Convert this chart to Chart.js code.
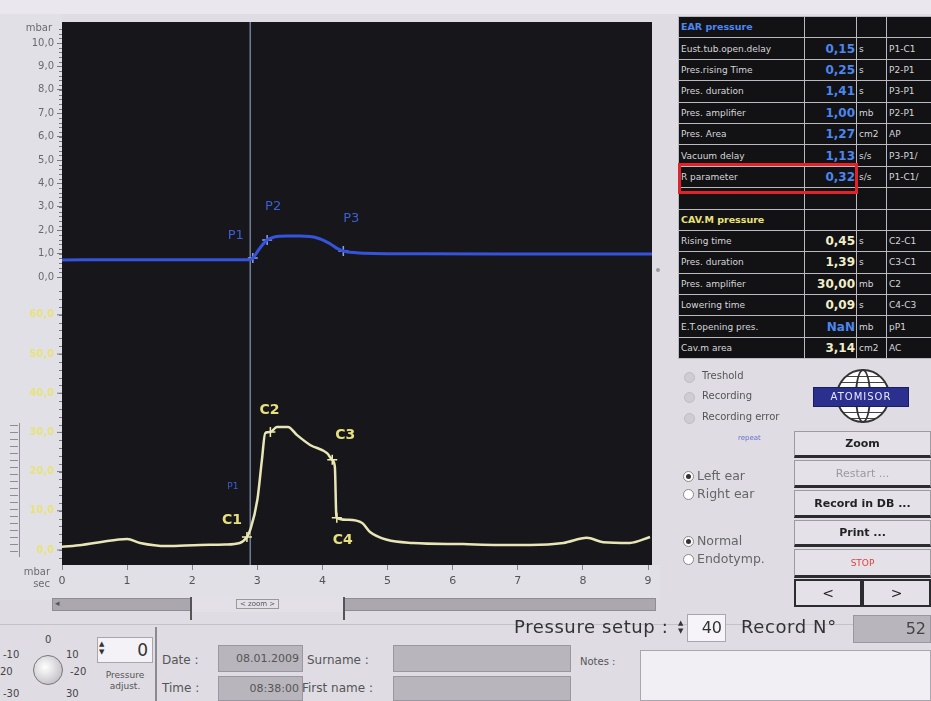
<!DOCTYPE html>
<html><head><meta charset="utf-8">
<script src="https://cdn.jsdelivr.net/npm/chart.js@4/dist/chart.umd.min.js"></script>
<style>
html,body{margin:0;padding:0;}
body{width:931px;height:701px;background:#dfdce4;position:relative;overflow:hidden;font-family:'DejaVu Sans',Verdana,sans-serif;color:#444;}
.a{position:absolute;white-space:nowrap;}
#topband{left:0;top:0;width:931px;height:14px;background:#eae8ee;}
#chartWrap{position:absolute;left:0;top:0;width:665px;height:600px;}
#tbl{left:678px;top:16px;width:253px;border-collapse:collapse;table-layout:fixed;background:#121214;}
#tbl td{border:1.5px solid #b9b9bf;height:20.4px;padding:0 2px;font-size:9px;color:#d6d6da;overflow:hidden;line-height:10px;}
#tbl td.v{text-align:right;font-size:12px;font-weight:bold;color:#4d86ee;padding-right:1px;}
#tbl td.vy{text-align:right;font-size:12px;font-weight:bold;color:#f1edc9;padding-right:1px;}
#tbl td.hb{color:#4e86f0;font-weight:bold;font-size:9.5px;}
#tbl td.hy{color:#e9e27a;font-weight:bold;font-size:9.5px;}
#red{left:678px;top:163px;width:174px;height:25px;border:3px solid #e0222a;}
.led{width:9px;height:9px;border-radius:50%;background:#cfccd4;border:1px solid #bdbac2;}
.lt{font-size:10px;color:#555;}
.rad{width:9px;height:9px;border-radius:50%;background:#fff;border:1px solid #888;}
.rad.on::after{content:'';position:absolute;left:2px;top:2px;width:5px;height:5px;border-radius:50%;background:#333;}
.rt{font-size:12.5px;color:#666;}
.btn{background:#e4e1e8;border:1px solid #9d9aa2;border-bottom:3px solid #2c2b30;box-sizing:border-box;text-align:center;font-size:11px;font-weight:bold;color:#222;}
.box{background:#b8b5bc;border:1px solid #9a97a0;box-sizing:border-box;}
.knl{font-size:10px;color:#444;}
.big{font-size:18px;color:#333;letter-spacing:0.6px;}
</style></head>
<body>
<div class="a" id="topband"></div>
<div id="chartWrap"><canvas id="c" width="665" height="600"></canvas></div>

<!-- left slider bracket -->
<div class="a" style="left:19px;top:423px;width:1px;height:134px;background:#8e8b94;"></div>
<div class="a" style="left:10px;top:425px;width:8px;height:130px;background:repeating-linear-gradient(to bottom,#8e8b94 0 1px,transparent 1px 7px);"></div>

<div class="a" style="left:656px;top:268px;width:4px;height:4px;background:#9a97a0;border-radius:50%;"></div>

<table class="a" id="tbl">
<colgroup><col style="width:126px"><col style="width:52px"><col style="width:30px"><col style="width:45px"></colgroup>
<tr><td class="hb">EAR pressure</td><td></td><td></td><td></td></tr>
<tr><td>Eust.tub.open.delay</td><td class="v">0,15</td><td>s</td><td>P1-C1</td></tr>
<tr><td>Pres.rising Time</td><td class="v">0,25</td><td>s</td><td>P2-P1</td></tr>
<tr><td>Pres. duration</td><td class="v">1,41</td><td>s</td><td>P3-P1</td></tr>
<tr><td>Pres. amplifier</td><td class="v">1,00</td><td>mb</td><td>P2-P1</td></tr>
<tr><td>Pres. Area</td><td class="v">1,27</td><td>cm2</td><td>AP</td></tr>
<tr><td>Vacuum delay</td><td class="v">1,13</td><td>s/s</td><td>P3-P1/</td></tr>
<tr><td>R parameter</td><td class="v">0,32</td><td>s/s</td><td>P1-C1/</td></tr>
<tr><td></td><td></td><td></td><td></td></tr>
<tr><td class="hy">CAV.M pressure</td><td></td><td></td><td></td></tr>
<tr><td>Rising time</td><td class="vy">0,45</td><td>s</td><td>C2-C1</td></tr>
<tr><td>Pres. duration</td><td class="vy">1,39</td><td>s</td><td>C3-C1</td></tr>
<tr><td>Pres. amplifier</td><td class="vy">30,00</td><td>mb</td><td>C2</td></tr>
<tr><td>Lowering time</td><td class="vy">0,09</td><td>s</td><td>C4-C3</td></tr>
<tr><td>E.T.opening pres.</td><td class="v">NaN</td><td>mb</td><td>pP1</td></tr>
<tr><td>Cav.m area</td><td class="vy">3,14</td><td>cm2</td><td>AC</td></tr>
</table>
<div class="a" id="red"></div>

<!-- indicators -->
<div class="a led" style="left:684px;top:372px;"></div><div class="a lt" style="left:702px;top:370px;">Treshold</div>
<div class="a led" style="left:684px;top:392px;"></div><div class="a lt" style="left:702px;top:390px;">Recording</div>
<div class="a led" style="left:684px;top:413px;"></div><div class="a lt" style="left:702px;top:411px;">Recording error</div>
<div class="a" style="left:738px;top:434px;font-size:7px;color:#6a6fd0;">repeat</div>

<!-- logo -->
<div class="a" style="left:836px;top:369px;width:54px;height:54px;border-radius:50%;border:2px solid #333;box-sizing:border-box;background:repeating-linear-gradient(to bottom,#fff 0 5px,#444 5px 6px);"></div>
<div class="a" style="left:855px;top:369px;width:16px;height:54px;border-radius:50%;border:2px solid #333;box-sizing:border-box;"></div>
<div class="a" style="left:813px;top:387px;width:94px;height:18px;background:#2b2f8e;border:1px solid #1a1d60;color:#e6e8ff;font-size:10px;text-align:center;line-height:18px;letter-spacing:1px;">ATOMISOR</div>

<!-- buttons -->
<div class="a btn" style="left:794px;top:431px;width:137px;height:27px;line-height:24px;">Zoom</div>
<div class="a btn" style="left:794px;top:460px;width:137px;height:28px;line-height:25px;color:#9c99a2;font-weight:normal;">Restart ...</div>
<div class="a btn" style="left:794px;top:490px;width:137px;height:28px;line-height:25px;">Record in DB ...</div>
<div class="a btn" style="left:794px;top:520px;width:137px;height:27px;line-height:24px;">Print ...</div>
<div class="a btn" style="left:794px;top:549px;width:137px;height:29px;line-height:26px;color:#e04040;font-weight:normal;font-size:9px;">STOP</div>
<div class="a btn" style="left:794px;top:579px;width:68px;height:28px;line-height:25px;font-size:14px;font-weight:normal;border:2px solid #2c2b30;">&lt;</div>
<div class="a btn" style="left:862px;top:579px;width:69px;height:28px;line-height:25px;font-size:14px;font-weight:normal;border:2px solid #2c2b30;">&gt;</div>

<!-- radios -->
<div class="a rad on" style="left:683px;top:471px;"></div><div class="a rt" style="left:697px;top:468px;">Left ear</div>
<div class="a rad" style="left:683px;top:489px;"></div><div class="a rt" style="left:697px;top:486px;">Right ear</div>
<div class="a rad on" style="left:683px;top:536px;"></div><div class="a rt" style="left:697px;top:533px;">Normal</div>
<div class="a rad" style="left:683px;top:554px;"></div><div class="a rt" style="left:697px;top:551px;">Endotymp.</div>

<!-- scrollbar -->
<div class="a" style="left:52px;top:598px;width:604px;height:13px;background:#aaa7ae;border:1px solid #8f8c94;box-sizing:border-box;"></div>
<div class="a" style="left:55px;top:598px;font-size:9px;color:#555;">&#9666;</div>
<div class="a" style="left:190px;top:597px;width:155px;height:15px;background:#e3e0e7;border-left:2px solid #555;border-right:2px solid #555;box-sizing:border-box;"></div>
<div class="a" style="left:190px;top:610px;width:2px;height:10px;background:#555;"></div>
<div class="a" style="left:343px;top:610px;width:2px;height:10px;background:#555;"></div>
<div class="a" style="left:236px;top:599px;font-size:7px;color:#555;border:1px solid #999;padding:0 3px;">&lt; zoom &gt;</div>

<!-- bottom -->
<div class="a" style="left:0;top:624px;width:931px;height:1px;background:#c4c1c9;"></div>
<div class="a" style="left:155px;top:627px;width:2px;height:74px;background:#8c8990;"></div>
<div class="a" style="left:33px;top:655px;width:30px;height:30px;border-radius:50%;background:radial-gradient(circle at 40% 40%,#ffffff,#c9c6cc 70%,#8e8b92);border:1px solid #777;box-sizing:border-box;"></div>
<div class="a knl" style="left:3px;top:649px;">-10</div>
<div class="a knl" style="left:45px;top:634px;">0</div>
<div class="a knl" style="left:66px;top:649px;">10</div>
<div class="a knl" style="left:0px;top:666px;">20</div>
<div class="a knl" style="left:70px;top:666px;">-20</div>
<div class="a knl" style="left:3px;top:688px;">-30</div>
<div class="a knl" style="left:66px;top:688px;">30</div>
<div class="a" style="left:97px;top:637px;width:56px;height:26px;background:#f4f2f6;border:1px solid #a9a6ad;box-sizing:border-box;text-align:right;font-size:17px;line-height:24px;padding-right:4px;color:#333;">0</div>
<div class="a" style="left:99px;top:640px;font-size:7px;line-height:8px;color:#333;">&#9650;<br>&#9660;</div>
<div class="a" style="left:105px;top:670px;width:40px;font-size:9px;line-height:11px;text-align:center;color:#555;">Pressure<br>adjust.</div>

<div class="a" style="left:162px;top:653px;font-size:12px;color:#555;">Date :</div>
<div class="a" style="left:162px;top:681px;font-size:12px;color:#555;">Time :</div>
<div class="a box" style="left:218px;top:645px;width:85px;height:27px;font-size:11px;line-height:25px;text-align:right;padding-right:3px;color:#555;">08.01.2009</div>
<div class="a box" style="left:218px;top:676px;width:85px;height:25px;font-size:11px;line-height:23px;text-align:right;padding-right:3px;color:#555;">08:38:00</div>
<div class="a" style="left:307px;top:653px;font-size:12px;color:#555;">Surname :</div>
<div class="a" style="left:302px;top:681px;font-size:12px;color:#555;">First name :</div>
<div class="a box" style="left:393px;top:645px;width:178px;height:27px;"></div>
<div class="a box" style="left:393px;top:676px;width:178px;height:25px;"></div>
<div class="a" style="left:580px;top:656px;font-size:10px;color:#555;">Notes :</div>
<div class="a" style="left:640px;top:650px;width:291px;height:51px;background:#f1eff4;border:1px solid #a9a6ad;box-sizing:border-box;"></div>

<div class="a big" style="left:514px;top:616px;">Pressure setup :</div>
<div class="a" style="left:678px;top:619px;font-size:7px;line-height:8px;color:#333;">&#9650;<br>&#9660;</div>
<div class="a" style="left:687px;top:614px;width:39px;height:28px;background:#f6f4f8;border:1px solid #a9a6ad;box-sizing:border-box;text-align:right;font-size:16px;line-height:26px;padding-right:3px;color:#333;">40</div>
<div class="a big" style="left:741px;top:616px;">Record N°</div>
<div class="a box" style="left:853px;top:615px;width:78px;height:28px;text-align:right;font-size:16px;line-height:26px;padding-right:4px;color:#444;">52</div>

<script>
// ---- data ----
const timeEar = [0, 1.0, 2.0, 2.87, 2.93, 3.04, 3.15, 3.26, 3.45, 3.66, 3.92, 4.10, 4.24, 4.32, 4.56, 5.5, 7.0, 9.06];
const earPressure = [0.73, 0.74, 0.74, 0.74, 0.81, 1.24, 1.58, 1.71, 1.75, 1.75, 1.67, 1.45, 1.20, 1.11, 1.03, 0.99, 0.98, 0.98];
const timeCav = [0.0, 0.3, 0.58, 1.0, 1.2, 1.61, 2.12, 2.5, 2.73, 2.84, 2.89, 3.0, 3.07, 3.12, 3.2, 3.3, 3.47, 3.61, 3.81, 4.07, 4.15, 4.19, 4.21, 4.22, 4.38, 4.61, 4.73, 4.99, 5.39, 6.16, 6.7, 7.19, 7.7, 8.06, 8.31, 8.72, 9.03];
const cavPressure = [0.8, 1.3, 2.0, 2.8, 1.8, 1.0, 1.3, 1.4, 1.8, 3.3, 5.1, 12.8, 23.0, 29.8, 30.1, 31.4, 31.4, 29.3, 26.8, 24.7, 23.0, 21.2, 9.4, 8.2, 7.7, 6.9, 4.6, 2.6, 1.8, 1.5, 1.3, 1.3, 1.8, 3.1, 2.0, 1.8, 3.3];
const earMarkNames = ['P1', 'P2', 'P3'];
const earMarkTimes = [2.93, 3.15, 4.32];
const earMarkValues = [0.81, 1.58, 1.11];
const cavMarkNames = ['C1', 'C2', 'C3', 'C4'];
const cavMarkTimes = [2.84, 3.2, 4.15, 4.22];
const cavMarkValues = [3.3, 30.1, 23.0, 8.2];
const xTickValues = [0, 1, 2, 3, 4, 5, 6, 7, 8, 9];
const earTickValues = [0, 1, 2, 3, 4, 5, 6, 7, 8, 9, 10];
const cavTickValues = [0, 10, 20, 30, 40, 50, 60];
const cursorTime = 2.89;

const fmt = v => v.toFixed(1).replace('.', ',');

const labelOffsets = {P1:[-17,-22],P2:[6,-33],P3:[8,-32],C1:[-15,-17],C2:[-1,-22],C3:[13,-24],C4:[6,23]};

const overlay = {
  id: 'overlay',
  beforeDraw(c) {
    const {ctx, chartArea: a} = c;
    ctx.save();
    ctx.fillStyle = '#e2e0e7';
    ctx.fillRect(0, 14, a.left, c.height - 14);
    ctx.fillRect(a.left, a.bottom, a.right - a.left + 8, c.height - a.bottom);
    ctx.fillStyle = '#17171b';
    ctx.fillRect(a.left, a.top, a.right - a.left, a.bottom - a.top);
    ctx.restore();
  },
  beforeDatasetsDraw(c) {
    const {ctx, chartArea: a, scales} = c;
    const x = scales.x.getPixelForValue(cursorTime);
    ctx.save();
    ctx.strokeStyle = '#7b8fae';
    ctx.lineWidth = 1.3;
    ctx.beginPath(); ctx.moveTo(x, a.top); ctx.lineTo(x, a.bottom); ctx.stroke();
    ctx.restore();
  },
  afterDraw(c) {
    const {ctx, chartArea: a, scales} = c;
    const y = scales.y, y2 = scales.y2, xs = scales.x;
    ctx.save();
    // minor ticks
    ctx.strokeStyle = '#7a7780';
    ctx.lineWidth = 1;
    ctx.beginPath();
    for (let v = 0; v <= 10.6; v += 0.2) { const p = Math.round(y.getPixelForValue(v)) + 0.5; ctx.moveTo(a.left - 3, p); ctx.lineTo(a.left, p); }
    for (let v = -2; v <= 66; v += 2) { const p = Math.round(y2.getPixelForValue(v)) + 0.5; ctx.moveTo(a.left - 3, p); ctx.lineTo(a.left, p); }
    ctx.stroke();
    // yellow axis labels
    ctx.font = 'bold 10px "DejaVu Sans"';
    ctx.textAlign = 'right'; ctx.textBaseline = 'middle';
    cavTickValues.forEach(v => {
      const p = y2.getPixelForValue(v);
      ctx.fillStyle = '#e6e27c';
      ctx.fillText(fmt(v), a.left - 8, p);
      ctx.strokeStyle = '#7a7780';
      ctx.beginPath(); ctx.moveTo(a.left - 5, p); ctx.lineTo(a.left, p); ctx.stroke();
    });
    // unit labels
    ctx.fillStyle = '#6c6a72';
    ctx.font = '10px "DejaVu Sans"';
    ctx.fillText('mbar', a.left - 10, a.top + 6);
    ctx.fillText('mbar', a.left - 12, a.bottom + 7);
    ctx.fillText('sec', a.left - 12, a.bottom + 19);
    // marker labels
    ctx.textAlign = 'center';
    ctx.font = '13px "DejaVu Sans"';
    ctx.fillStyle = '#3b5fd6';
    earMarkNames.forEach((n, i) => {
      const o = labelOffsets[n];
      ctx.fillText(n, xs.getPixelForValue(earMarkTimes[i]) + o[0], y.getPixelForValue(earMarkValues[i]) + o[1]);
    });
    ctx.font = '9px "DejaVu Sans"';
    ctx.fillText('P1', xs.getPixelForValue(cavMarkTimes[0]) - 14, y2.getPixelForValue(cavMarkValues[0]) - 50);
    ctx.font = 'bold 14px "DejaVu Sans"';
    ctx.fillStyle = '#e6e07e';
    cavMarkNames.forEach((n, i) => {
      const o = labelOffsets[n];
      ctx.fillText(n, xs.getPixelForValue(cavMarkTimes[i]) + o[0], y2.getPixelForValue(cavMarkValues[i]) + o[1]);
    });
    ctx.restore();
  }
};

new Chart(document.getElementById('c'), {
  type: 'line',
  data: {
    datasets: [
      { data: timeEar.map((t, i) => ({x: t, y: earPressure[i]})), yAxisID: 'y', borderColor: '#3553dc', borderWidth: 3, pointRadius: 0, cubicInterpolationMode: 'monotone' },
      { data: timeCav.map((t, i) => ({x: t, y: cavPressure[i]})), yAxisID: 'y2', borderColor: '#e8e6b6', borderWidth: 2.5, pointRadius: 0, cubicInterpolationMode: 'monotone' },
      { data: earMarkTimes.map((t, i) => ({x: t, y: earMarkValues[i]})), yAxisID: 'y', showLine: false, pointStyle: 'cross', pointRadius: 5, borderColor: '#8da0f0', borderWidth: 1.5 },
      { data: cavMarkTimes.map((t, i) => ({x: t, y: cavMarkValues[i]})), yAxisID: 'y2', showLine: false, pointStyle: 'cross', pointRadius: 5, borderColor: '#f2eea8', borderWidth: 1.5 }
    ]
  },
  options: {
    responsive: false, animation: false, events: [],
    layout: { padding: { top: 22, right: 13, left: 0, bottom: 0 } },
    plugins: { legend: { display: false }, tooltip: { enabled: false } },
    scales: {
      x: {
        type: 'linear', min: 0, max: 9.06,
        afterBuildTicks: s => { s.ticks = xTickValues.map(v => ({value: v})); },
        afterFit: s => { s.height = 35; },
        grid: { drawOnChartArea: false, tickLength: 5, color: '#85828b' },
        border: { display: false },
        ticks: { color: '#55535a', font: { size: 11, family: 'DejaVu Sans' }, padding: 5, maxRotation: 0, callback: v => String(v) }
      },
      y: {
        type: 'linear', position: 'left', min: -12.31, max: 10.9,
        afterBuildTicks: s => { s.ticks = earTickValues.map(v => ({value: v})); },
        afterFit: s => { s.width = 62; },
        grid: { drawOnChartArea: false, tickLength: 5, color: '#7a7780' },
        border: { display: false },
        ticks: { color: '#6a6870', font: { size: 10, family: 'DejaVu Sans' }, padding: 3, callback: v => fmt(v) }
      },
      y2: { type: 'linear', display: false, min: -3.83, max: 134.7 }
    }
  },
  plugins: [overlay]
});
</script>
</body></html>
